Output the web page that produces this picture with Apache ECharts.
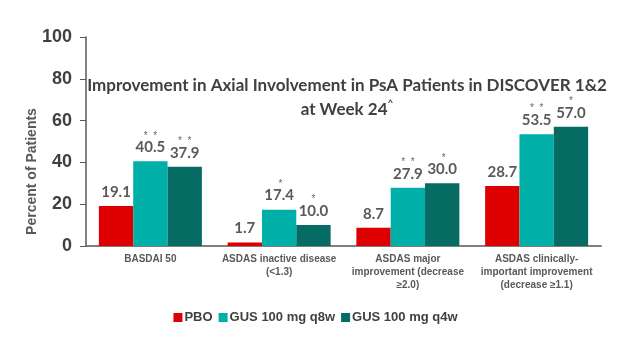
<!DOCTYPE html>
<html><head><meta charset="utf-8">
<script src="https://cdn.jsdelivr.net/npm/echarts@6/dist/echarts.min.js"></script>
<style>html,body{margin:0;padding:0;background:#fff}#c{width:631px;height:347px}</style>
</head><body><div id="c"></div>
<script>
const categories = ["BASDAI 50", "ASDAS inactive disease\n(<1.3)", "ASDAS major\nimprovement (decrease\n≥2.0)", "ASDAS clinically-\nimportant improvement\n(decrease ≥1.1)"];
const seriesNames = ["PBO", "GUS 100 mg q8w", "GUS 100 mg q4w"];
const pbo = [19.1, 1.7, 8.7, 28.7];
const q8w = [40.5, 17.4, 27.9, 53.5];
const q4w = [37.9, 10.0, 30.0, 57.0];
const q8wStars = ["*  *", " *", "*  *", "*  *"];
const q4wStars = ["*  *", "*", " *", "*"];
const yTicks = [0, 20, 40, 60, 80, 100];
const colors = ["#DE0000", "#00AFA8", "#066B63"];

const chart = echarts.init(document.getElementById('c'));
function mkSeries(name, data, color, stars) {
  return {
    name, type: 'bar', data, barGap: '0%', barCategoryGap: '20%',
    itemStyle: { color },
    label: {
      show: true, position: 'top', distance: 6,
      formatter: p => stars ? '{s|' + stars[p.dataIndex] + '}\n{v|' + p.value.toFixed(1) + '}' : '{v|' + p.value.toFixed(1) + '}',
      rich: {
        v: { fontFamily: 'Lato', fontWeight: 'bold', fontSize: 15, color: '#595959', lineHeight: 16 },
        s: { fontFamily: 'Liberation Sans', fontSize: 10, color: '#666', lineHeight: 7 }
      }
    }
  };
}
chart.setOption({
  animation: false,
  title: {
    text: 'Improvement in Axial Involvement in PsA Patients in DISCOVER 1&2\nat Week 24{sup|^}',
    left: 342, top: 69, textAlign: 'center',
    textStyle: { fontFamily: 'Lato', fontWeight: 'bold', fontSize: 17, color: '#404040', lineHeight: 24,
      rich: { sup: { fontFamily: 'Lato', fontSize: 10, fontWeight: 'bold', color: '#404040', verticalAlign: 'top', padding: [0,0,10,0] } } }
  },
  legend: {
    data: seriesNames, bottom: 18, left: 'center', itemWidth: 9, itemHeight: 9, itemGap: 6, icon: 'rect',
    textStyle: { fontFamily: '"Liberation Sans"', fontWeight: 'bold', fontSize: 13, color: '#404040', padding: [0,0,0,-3] }
  },
  grid: { left: 86, right: 30, top: 37, bottom: 101, containLabel: false },
  xAxis: {
    type: 'category', data: categories,
    axisLine: { lineStyle: { color: '#7f7f7f', width: 2 } },
    axisTick: { show: false },
    axisLabel: { interval: 0, margin: 7, fontFamily: '"Liberation Sans"', fontWeight: 'bold', fontSize: 10, color: '#595959', lineHeight: 13 }
  },
  yAxis: {
    type: 'value', min: 0, max: 100, interval: 20,
    name: 'Percent of Patients', nameLocation: 'middle', nameGap: 47, nameRotate: 90, nameMoveOverlap: false,
    nameTextStyle: { fontFamily: '"Liberation Sans"', fontWeight: 'bold', fontSize: 14, color: '#595959', padding: [0, 60, 0, 0] },
    axisLine: { show: true, lineStyle: { color: '#595959', width: 1.5 } },
    axisTick: { show: true, inside: false, length: 6, lineStyle: { color: '#595959' } },
    splitLine: { show: false },
    axisLabel: { margin: 14, fontFamily: '"Liberation Sans"', fontWeight: 'bold', fontSize: 18, color: '#404040',
      formatter: v => yTicks.includes(v) ? String(v) : '' }
  },
  series: [
    mkSeries(seriesNames[0], pbo, colors[0], null),
    mkSeries(seriesNames[1], q8w, colors[1], q8wStars),
    mkSeries(seriesNames[2], q4w, colors[2], q4wStars)
  ]
});
</script></body></html>
